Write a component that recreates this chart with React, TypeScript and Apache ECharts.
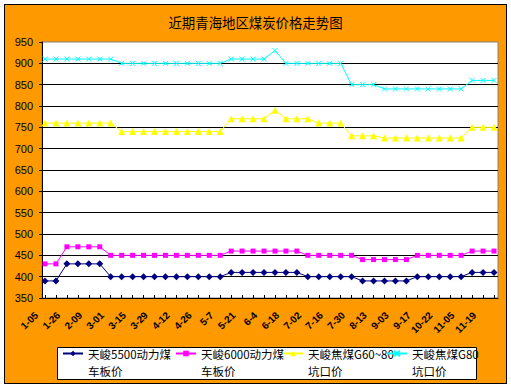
import React, { useEffect, useRef } from "react";
import * as echarts from "echarts";

const titleText = "近期青海地区煤炭价格走势图";

// x-axis tick labels (shown on every other category)
const tickLabels = [
  "1-05", "1-26", "2-09", "3-01", "3-15", "3-29", "4-12", "4-26", "5-7", "5-21",
  "6-4", "6-18", "7-02", "7-16", "7-30", "8-13", "9-03", "9-17", "10-22", "11-05", "11-19",
];
const categories: string[] = [];
tickLabels.forEach((l) => {
  categories.push(l);
  categories.push("");
});

const yTicks = { min: 350, max: 950, step: 50 };

const legendLines: string[][] = [
  ["天峻5500动力煤", "车板价"],
  ["天峻6000动力煤", "车板价"],
  ["天峻焦煤G60~80", "坑口价"],
  ["天峻焦煤G80", "坑口价"],
];
const seriesNames = legendLines.map((l) => l[0] + l[1]);

const s5500 = [
  390, 390, 430, 430, 430, 430, 400, 400, 400, 400, 400, 400, 400, 400, 400, 400, 400,
  410, 410, 410, 410, 410, 410, 410, 400, 400, 400, 400, 400, 390, 390, 390, 390, 390,
  400, 400, 400, 400, 400, 410, 410, 410,
];
const s6000 = [
  430, 430, 470, 470, 470, 470, 450, 450, 450, 450, 450, 450, 450, 450, 450, 450, 450,
  460, 460, 460, 460, 460, 460, 460, 450, 450, 450, 450, 450, 440, 440, 440, 440, 440,
  450, 450, 450, 450, 450, 460, 460, 460,
];
const sG6080 = [
  760, 760, 760, 760, 760, 760, 760, 740, 740, 740, 740, 740, 740, 740, 740, 740, 740,
  770, 770, 770, 770, 790, 770, 770, 770, 760, 760, 760, 730, 730, 730, 725, 725, 725,
  725, 725, 725, 725, 725, 750, 750, 750,
];
const sG80 = [
  910, 910, 910, 910, 910, 910, 910, 900, 900, 900, 900, 900, 900, 900, 900, 900, 900,
  910, 910, 910, 910, 930, 900, 900, 900, 900, 900, 900, 850, 850, 850, 840, 840, 840,
  840, 840, 840, 840, 840, 860, 860, 860,
];

const seriesData = [s5500, s6000, sG6080, sG80];
const seriesColors = ["#000080", "#FF00FF", "#FFFF00", "#00FFFF"];
const seriesSymbols = ["diamond", "rect", "triangle", "path://M0,0L10,10M10,0L0,10"];
const symbolSizes = [7, 5, 7, 5];
const legendX = [62, 175, 282, 386];

const cjk = '"Noto Sans CJK SC", "Noto Sans", sans-serif';
const latin = 'Arial, "Liberation Sans", "DejaVu Sans", sans-serif';

export default function App() {
  const ref = useRef<HTMLDivElement>(null);

  useEffect(() => {
    if (!ref.current) return;
    const chart = echarts.init(ref.current, undefined, { renderer: "svg" });
    const option: any = {
      animation: false,
      title: {
        text: titleText,
        left: "center",
        top: 15,
        padding: 0,
        textStyle: { fontSize: 13.4, fontWeight: "normal", color: "#000", fontFamily: cjk },
      },
      grid: [
        {
          left: 42, right: 13, top: 42, bottom: 91, show: true,
          backgroundColor: "#fff", borderColor: "#808080", borderWidth: 1,
        },
        { left: 45, right: 17, top: 42, bottom: 91, show: false },
      ],
      xAxis: [
        {
          gridIndex: 0, type: "value", min: 0, max: 1,
          axisLine: { show: true, lineStyle: { color: "#000", width: 1 } },
          axisTick: { show: false }, axisLabel: { show: false }, splitLine: { show: false },
        },
        {
          gridIndex: 1, type: "category", data: categories, boundaryGap: false,
          axisLine: { show: false },
          axisTick: { show: true, inside: true, length: 3, interval: 0, lineStyle: { color: "#000" } },
          axisLabel: {
            interval: 1, rotate: 45, margin: 7, padding: [0, 12, 0, 0],
            fontSize: 10, fontWeight: "bold", color: "#000", fontFamily: latin,
          },
          splitLine: { show: false },
        },
      ],
      yAxis: [
        {
          gridIndex: 0, type: "value", min: yTicks.min, max: yTicks.max, interval: yTicks.step,
          axisLine: { show: true, lineStyle: { color: "#000", width: 1 } },
          axisTick: { show: true, length: 3, lineStyle: { color: "#000" } },
          axisLabel: { margin: 9, fontSize: 11, color: "#000", fontFamily: latin },
          splitLine: { show: true, showMaxLine: false, lineStyle: { color: "#000", width: 1 } },
        },
        { gridIndex: 1, type: "value", min: yTicks.min, max: yTicks.max, show: false },
      ],
      graphic: [
        {
          type: "rect", z: 1,
          shape: { x: 57.5, y: 347.5, width: 419, height: 32 },
          style: { fill: "#fff", stroke: "#000", lineWidth: 1 },
        },
      ],
      legend: seriesNames.map((n, i) => ({
        data: [n],
        left: legendX[i],
        top: 328,
        padding: 0,
        z: 5,
        itemWidth: 20,
        itemHeight: 7,
        formatter: () => " \n" + legendLines[i].join("\n"),
        textStyle: {
          fontSize: 11.5, lineHeight: 17,
          color: "#000", fontFamily: cjk,
        },
      })),
      series: seriesNames.map((n, i) => ({
        name: n,
        type: "line",
        xAxisIndex: 1,
        yAxisIndex: 1,
        data: seriesData[i],
        symbol: seriesSymbols[i],
        symbolSize: symbolSizes[i],
        showAllSymbol: true,
        lineStyle: { color: seriesColors[i], width: 1 },
        itemStyle: { color: seriesColors[i], borderColor: seriesColors[i], borderWidth: i === 3 ? 1 : 0 },
      })),
    };
    chart.setOption(option);
    return () => chart.dispose();
  }, []);

  return (
    <div style={{ position: "fixed", left: 0, top: 0, width: 511, height: 389, background: "#fff" }}>
      <div
        style={{
          position: "absolute", left: 4, top: 4, width: 503, height: 380,
          boxSizing: "border-box", border: "1px solid #000", background: "#FF9900",
        }}
      />
      <div ref={ref} style={{ position: "absolute", left: 0, top: 0, width: 511, height: 389 }} />
    </div>
  );
}
